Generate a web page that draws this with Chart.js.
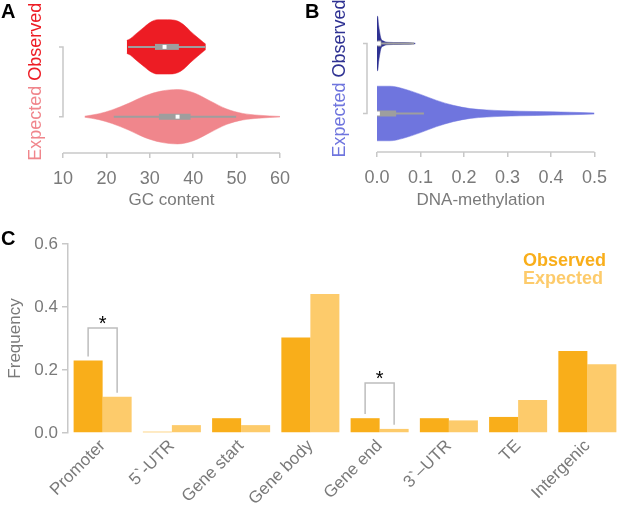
<!DOCTYPE html>
<html>
<head>
<meta charset="utf-8">
<script src="https://cdn.jsdelivr.net/npm/chart.js@4.4.0/dist/chart.umd.min.js"></script>
<style>
  html, body { margin: 0; padding: 0; background: #fff; overflow: hidden; width: 617px; height: 507px; }
  canvas { position: absolute; }
  .panel { position: absolute; font: bold 20px 'Liberation Sans', Arial, sans-serif; color: #000; }
</style>
</head>
<body>
<canvas id="gcChart" width="300" height="215" style="left:0;top:0"></canvas>
<canvas id="methChart" width="317" height="215" style="left:300px;top:0"></canvas>
<canvas id="regionChart" width="626" height="292" style="left:0;top:215px"></canvas>
<div class="panel" style="left:1px;top:0">A</div>
<div class="panel" style="left:305px;top:0">B</div>
<div class="panel" style="left:1px;top:227px">C</div>
<script>
// Panel A: GC content violins (x = GC %, dens = relative half-width of violin)
const gcObsX = [24.7, 25.5, 26.6, 28.8, 30.3, 31.8, 34.1, 36.4, 37.9, 39.4, 40.9, 42.4, 42.9];
const gcObsDens = [0.24, 0.3, 0.45, 0.74, 0.92, 1.0, 1.0, 0.95, 0.8, 0.57, 0.36, 0.16, 0.1];
const gcExpX = [15, 18.3, 21.3, 25.1, 28.8, 32.6, 36.4, 40.1, 43.9, 47.6, 51.4, 55.1, 60];
const gcExpDens = [0.02, 0.11, 0.25, 0.49, 0.76, 0.94, 1.0, 0.88, 0.58, 0.29, 0.12, 0.055, 0.01];
// box stats: whisker low, q1, median, q3, whisker high
const gcObsBox = [25, 31.2, 33.4, 36.7, 42.8];
const gcExpBox = [21.7, 32.1, 36.4, 39.4, 49.9];
const gcTicks = [10, 20, 30, 40, 50, 60];

// Panel B: DNA-methylation violins
const methObsX = [0, 0.0015, 0.0037, 0.006, 0.009, 0.015, 0.025, 0.05, 0.075, 0.088];
const methObsDens = [1.0, 0.99, 0.67, 0.43, 0.19, 0.09, 0.045, 0.035, 0.03, 0.01];
const methExpX = [0, 0.03, 0.06, 0.1, 0.137, 0.175, 0.214, 0.252, 0.29, 0.366, 0.443, 0.5];
const methExpDens = [1.0, 1.0, 0.91, 0.70, 0.48, 0.3, 0.18, 0.13, 0.1, 0.073, 0.047, 0.02];
const methObsBox = [0, 0.001, 0.004, 0.01, 0.085];
const methExpBox = [0, 0.0, 0.002, 0.044, 0.108];
const methTicks = [0, 0.1, 0.2, 0.3, 0.4, 0.5];

// Panel C: genomic region frequencies
const regions = ['Promoter', '5`-UTR', 'Gene start', 'Gene body', 'Gene end', '3`–UTR', 'TE', 'Intergenic'];
const observed = [0.23, 0.004, 0.047, 0.303, 0.047, 0.047, 0.051, 0.26];
const expected = [0.115, 0.025, 0.025, 0.441, 0.013, 0.040, 0.105, 0.218];
const freqTicks = [0, 0.2, 0.4, 0.6];
const sigRegions = ['Promoter', 'Gene end'];
const sigTops = [0.333, 0.159];

const labelGrey = '#7a7a7a';
const axisGrey = '#c8c8c8';
const boxGrey = '#9e9e9e';
const halfWidth = 0.39; // widest violin half-width in y units

Chart.defaults.font.family = "'Liberation Sans', Arial, sans-serif";
Chart.defaults.color = labelGrey;

function violin(xs, dens, center, color) {
    const up = xs.map((x, i) => ({ x: x, y: center + dens[i] * halfWidth }));
    const down = xs.map((x, i) => ({ x: x, y: center - dens[i] * halfWidth }));
    return [
        { data: up, borderColor: color, backgroundColor: color, borderWidth: 0.5, pointRadius: 0,
          fill: '+1', cubicInterpolationMode: 'monotone', order: 2 },
        { data: down, borderColor: color, backgroundColor: color, borderWidth: 0.5, pointRadius: 0,
          fill: false, cubicInterpolationMode: 'monotone', order: 2 }
    ];
}

function boxPlot(stats, center) {
    return [
        { data: [{ x: stats[0], y: center }, { x: stats[4], y: center }], borderColor: boxGrey,
          borderWidth: 2, pointRadius: 0, fill: false, order: 1 },
        { data: [{ x: stats[1], y: center }, { x: stats[3], y: center }], borderColor: boxGrey,
          borderWidth: 6, borderCapStyle: 'butt', pointRadius: 0, fill: false, order: 1 },
        { data: [{ x: stats[2], y: center }], showLine: false, pointStyle: 'rect', pointRadius: 2.8,
          pointBackgroundColor: '#fff', pointBorderWidth: 0, order: 0 }
    ];
}

// R-style axes: x line only between end ticks, y bracket, two-coloured rotated group label
const violinAxes = {
    id: 'violinAxes',
    afterDraw(chart, args, opts) {
        const { ctx, chartArea } = chart;
        const x = chart.scales.x, y = chart.scales.y;
        ctx.save();
        ctx.strokeStyle = axisGrey;
        ctx.lineWidth = 1.5;
        ctx.beginPath();
        ctx.moveTo(x.getPixelForValue(opts.ticks[0]), chartArea.bottom);
        ctx.lineTo(x.getPixelForValue(opts.ticks[opts.ticks.length - 1]), chartArea.bottom);
        ctx.stroke();

        const yTop = y.getPixelForValue(1), yBot = y.getPixelForValue(0), bx = chartArea.left;
        ctx.beginPath();
        ctx.moveTo(bx - 4, yTop); ctx.lineTo(bx, yTop); ctx.lineTo(bx, yBot); ctx.lineTo(bx - 4, yBot);
        ctx.stroke();

        ctx.translate(bx - 27, (yTop + yBot) / 2);
        ctx.rotate(-Math.PI / 2);
        ctx.font = "18px 'Liberation Sans', Arial, sans-serif";
        ctx.textBaseline = 'middle';
        ctx.textAlign = 'left';
        const full = opts.labels.map(l => l.text).join(' ');
        let cx = -ctx.measureText(full).width / 2;
        opts.labels.forEach(l => {
            ctx.fillStyle = l.color;
            ctx.fillText(l.text, cx, 0);
            cx += ctx.measureText(l.text + ' ').width;
        });
        ctx.restore();
    }
};

function violinConfig(datasets, xMin, xMax, ticks, yMin, padding, axisHeight, title, labels, fmt) {
    return {
        type: 'line',
        data: { datasets: datasets },
        options: {
            responsive: false,
            animation: false,
            events: [],
            layout: { padding: padding },
            plugins: {
                legend: { display: false },
                tooltip: { enabled: false },
                violinAxes: { ticks: ticks, labels: labels }
            },
            scales: {
                x: {
                    type: 'linear', min: xMin, max: xMax,
                    afterBuildTicks: s => { s.ticks = ticks.map(v => ({ value: v })); },
                    afterFit: s => { s.height = axisHeight; },
                    border: { display: false },
                    grid: { drawOnChartArea: false, color: axisGrey, lineWidth: 1.5, tickLength: 5 },
                    ticks: { color: labelGrey, font: { size: 18 }, padding: 10, callback: fmt },
                    title: { display: true, text: title, color: labelGrey, font: { size: 17 },
                             padding: { top: 0, bottom: 4 } }
                },
                y: { type: 'linear', display: false, min: yMin, max: 1.5 }
            }
        },
        plugins: [violinAxes]
    };
}

new Chart(document.getElementById('gcChart'), violinConfig(
    [].concat(boxPlot(gcObsBox, 1), boxPlot(gcExpBox, 0),
              violin(gcObsX, gcObsDens, 1, '#ed1c24'), violin(gcExpX, gcExpDens, 0, '#f0868c')),
    10, 60, gcTicks, -0.52, { left: 63, right: 15, top: 12, bottom: 0 }, 62, 'GC content',
    [{ text: 'Expected', color: '#f0868c' }, { text: 'Observed', color: '#ed1c24' }],
    v => String(v)
));

new Chart(document.getElementById('methChart'), violinConfig(
    [].concat(boxPlot(methObsBox, 1), boxPlot(methExpBox, 0),
              violin(methObsX, methObsDens, 1, '#2e3192'), violin(methExpX, methExpDens, 0, '#6f75de')),
    -0.023, 0.5, methTicks, -0.55, { left: 67, right: 22, top: 8.5, bottom: 0 }, 63, 'DNA-methylation',
    [{ text: 'Expected', color: '#6f75de' }, { text: 'Observed', color: '#2e3192' }],
    v => v.toFixed(1)
));

// significance brackets and text legend for panel C
const regionExtras = {
    id: 'regionExtras',
    afterDatasetsDraw(chart) {
        const { ctx, chartArea } = chart;
        const y = chart.scales.y;
        const obsMeta = chart.getDatasetMeta(0), expMeta = chart.getDatasetMeta(1);
        ctx.save();
        ctx.strokeStyle = '#bdbdbd';
        ctx.lineWidth = 1.5;
        sigRegions.forEach((name, k) => {
            const i = regions.indexOf(name);
            const xa = obsMeta.data[i].x, xb = expMeta.data[i].x;
            const top = y.getPixelForValue(sigTops[k]);
            ctx.beginPath();
            ctx.moveTo(xa, y.getPixelForValue(observed[i] + 0.013));
            ctx.lineTo(xa, top);
            ctx.lineTo(xb, top);
            ctx.lineTo(xb, y.getPixelForValue(expected[i] + 0.013));
            ctx.stroke();
            ctx.fillStyle = '#000';
            ctx.font = "20px 'Liberation Sans', Arial, sans-serif";
            ctx.textAlign = 'center';
            ctx.textBaseline = 'alphabetic';
            ctx.fillText('*', (xa + xb) / 2, top + 2);
        });
        ctx.font = "bold 18px 'Liberation Sans', Arial, sans-serif";
        ctx.textAlign = 'left';
        chart.data.datasets.forEach((ds, i) => {
            ctx.fillStyle = ds.backgroundColor;
            ctx.fillText(ds.label, chartArea.right - 99, chartArea.top + 22 + i * 18);
        });
        ctx.restore();
    }
};

new Chart(document.getElementById('regionChart'), {
    type: 'bar',
    data: {
        labels: regions,
        datasets: [
            { label: 'Observed', data: observed, backgroundColor: '#f9ae1a' },
            { label: 'Expected', data: expected, backgroundColor: '#fdcb6b' }
        ]
    },
    options: {
        responsive: false,
        animation: false,
        events: [],
        layout: { padding: { left: 0, right: 4, top: 29, bottom: 0 } },
        datasets: { bar: { categoryPercentage: 0.838, barPercentage: 1.0, borderWidth: 0 } },
        plugins: { legend: { display: false }, tooltip: { enabled: false } },
        scales: {
            x: {
                grid: { display: false },
                border: { display: false },
                afterFit: s => { s.height = 74; },
                ticks: { color: labelGrey, font: { size: 17 }, minRotation: 45, maxRotation: 45,
                         autoSkip: false, padding: -5 }
            },
            y: {
                min: 0, max: 0.6,
                afterBuildTicks: s => { s.ticks = freqTicks.map(v => ({ value: v })); },
                afterFit: s => { s.width = 68; },
                border: { color: axisGrey, width: 1.5 },
                grid: { drawOnChartArea: false, color: axisGrey, lineWidth: 1.5, tickLength: 6 },
                ticks: { color: labelGrey, font: { size: 17 }, padding: 4, callback: v => v.toFixed(1) },
                title: { display: true, text: 'Frequency', color: labelGrey, font: { size: 17 },
                         padding: { top: 5, bottom: 0 } }
            }
        }
    },
    plugins: [regionExtras]
});
</script>
</body>
</html>
